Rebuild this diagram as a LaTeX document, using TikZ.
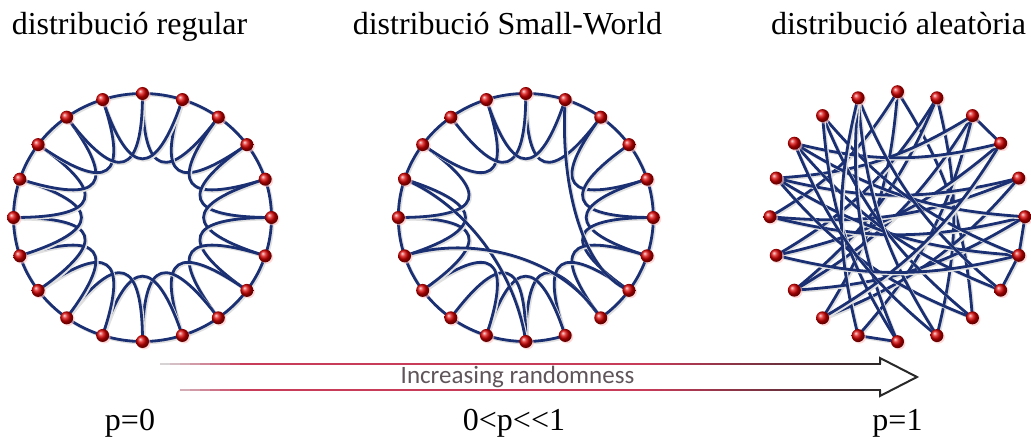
\documentclass[tikz,border=0pt]{standalone}
\usepackage{fontspec}
\setmainfont{Liberation Serif}
\newfontfamily\carl{Carlito}
\usetikzlibrary{calc,shadows}
\definecolor{edgeblue}{RGB}{26,48,115}
\definecolor{arrA}{RGB}{215,210,212}
\definecolor{arrB}{RGB}{200,60,90}
\definecolor{arrC}{RGB}{40,40,40}
\definecolor{labgray}{RGB}{95,85,90}
\pgfdeclarelayer{bg}
\pgfsetlayers{bg,main}
\tikzset{
  ball/.style={circle, inner sep=0pt, minimum size=13pt, shading=ball, ball color=red!85!black,
    drop shadow={shadow xshift=1.5pt, shadow yshift=-1.5pt, fill=red!25, opacity=0.6}},
  link/.style={draw=edgeblue, line width=2.8pt, line cap=round,
    preaction={draw=black!12, line width=3pt, transform canvas={shift={(1.4pt,-1.4pt)}}}},
  title/.style={font=\fontsize{32}{38}\selectfont, anchor=base, inner sep=0pt},
}
\begin{document}
\begin{tikzpicture}[x=1pt,y=1pt]
\useasboundingbox (0,0) rectangle (1031,437);
\coordinate (cA) at (142.5,219.5);
\coordinate (cB) at (525.8,219.5);
\coordinate (cC) at (897.5,220.3);
% nodes
\foreach \k in {0,...,19}{
  \node[ball] (A\k) at ($(cA)+({90-18*\k}:129 and 124)$) {};
  \node[ball] (B\k) at ($(cB)+({90-18*\k}:127.5 and 124)$) {};
  \node[ball] (C\k) at ($(cC)+({90-18*\k}:127.5 and 125)$) {};
}
\begin{pgfonlayer}{bg}
% ring A: regular
\foreach \k in {0,...,19}{
  \pgfmathtruncatemacro\kk{mod(\k+2,20)}
  \draw[link] (A\k.center) arc[start angle={90-18*\k}, end angle={72-18*\k}, x radius=129, y radius=124];
  \draw[link] (A\k.center) .. controls ($(cA)!0.33!(A\k.center)$) and ($(cA)!0.33!(A\kk.center)$) .. (A\kk.center);
}
% ring B: small world
\foreach \k in {0,...,7,9,10,...,19}{
  \draw[link] (B\k.center) arc[start angle={90-18*\k}, end angle={72-18*\k}, x radius=127.5, y radius=124];
}
\foreach \k in {0,2,3,...,11,13,14,15,17,18,19}{
  \pgfmathtruncatemacro\kk{mod(\k+2,20)}
  \draw[link] (B\k.center) .. controls ($(cB)!0.33!(B\k.center)$) and ($(cB)!0.33!(B\kk.center)$) .. (B\kk.center);
}
\draw[link] (B1.center) .. controls (560,257) and (580,167) .. (B7.center);
\draw[link] (B16.center) .. controls (465,232) and (515,167) .. (B10.center);
\draw[link] (B14.center) .. controls (470,202) and (560,182) .. (B8.center);
% ring C: random
\foreach \a/\b in {0/12,0/8,0/15,1/14,1/13,1/9,2/13,2/16,2/11,3/14,3/17,4/16,4/15,4/12,5/15,5/17,5/13,
  6/16,6/18,7/17,7/19,8/18,8/16,9/19,10/18,10/19,11/19,3/12,6/14,9/17}{
  \draw[link] (C\a.center) to[bend left=14] (C\b.center);
}
\foreach \a/\b in {2/3,5/6,6/7,10/11}{
  \draw[link] (C\a.center) -- (C\b.center);
}
\end{pgfonlayer}
% titles
\node[title] (t1) at (129.5,402) {distribució regular};
\node[title] (t2) at (507.5,402) {distribució Small-World};
\node[title] (t3) at (898.5,402) {distribució aleatòria};
\node[title] (p1) at (130,7) {p=0};
\node[title] (p2) at (514,7) {0<p<{}<1};
\node[title] (p3) at (897.5,7) {p=1};
% arrow
\foreach \i in {0,...,71}{
  \pgfmathsetmacro\xa{160+10*\i}
  \pgfmathsetmacro\xb{\xa+10.5}
  \pgfmathsetmacro\pa{max(0,min(100,(240-\xa)*1.25))}
  \pgfmathsetmacro\pb{max(0,min(100,(\xa-640)/2.4))}
  \colorlet{segc}{arrC!\pb!arrB}
  \colorlet{segc}{arrA!\pa!segc}
  \draw[segc, line width=1.8pt] (\xa,73) -- (\xb,73);
  \ifdim\xa pt>170pt
    \draw[segc, line width=1.8pt] (\xa,47) -- (\xb,47);
  \fi
}
\draw[arrC, line width=2pt, line join=miter] (880,73) -- (880,79) -- (917,60) -- (880,41) -- (880,47);
\node[font=\carl\fontsize{25}{30}\selectfont, text=labgray, anchor=base, inner sep=0pt] (lab) at (517.5,54) {Increasing randomness};
\end{tikzpicture}
\end{document}
